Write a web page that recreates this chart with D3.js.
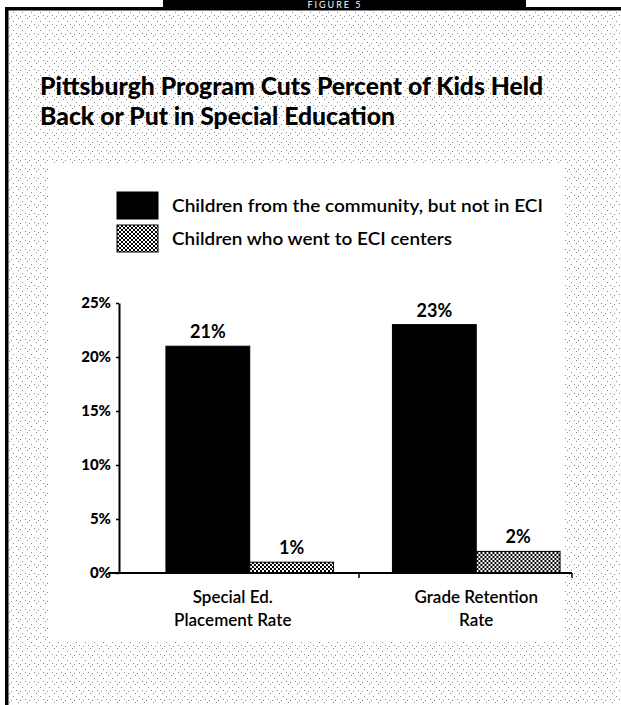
<!DOCTYPE html>
<html>
<head>
<meta charset="utf-8">
<script src="https://cdn.jsdelivr.net/npm/d3@7"></script>
<style>
  body { margin: 0; background: #fff; }
  svg { display: block; }
  text { font-family: Lato, "Open Sans", sans-serif; fill: #000; }
</style>
</head>
<body>
<script>
// data
var categories = ['Special Ed. Placement Rate', 'Grade Retention Rate'];
var categoryLines = [['Special Ed.', 'Placement Rate'], ['Grade Retention', 'Rate']];
var seriesNames = ['Children from the community, but not in ECI', 'Children who went to ECI centers'];
var notInECI = [21, 23];
var wentToECI = [1, 2];
var yTicks = [0, 5, 10, 15, 20, 25];

var W = 621, H = 705;

var svg = d3.select('body').append('svg')
    .attr('width', W)
    .attr('height', H);

var defs = svg.append('defs');

// scan-like stipple for the page background
var stip = defs.append('pattern')
    .attr('id', 'stipple')
    .attr('patternUnits', 'userSpaceOnUse')
    .attr('width', 9).attr('height', 9);
stip.append('rect').attr('width', 9).attr('height', 9).attr('fill', '#fff');
[[0, 0], [4, 3], [7, 6], [2, 7]].forEach(function(p) {
    stip.append('rect').attr('x', p[0]).attr('y', p[1])
        .attr('width', 1).attr('height', 1).attr('fill', '#8a8a8a');
});

// checker for the ECI bars
var chk = defs.append('pattern')
    .attr('id', 'checker')
    .attr('patternUnits', 'userSpaceOnUse')
    .attr('width', 4).attr('height', 4);
chk.append('rect').attr('width', 4).attr('height', 4).attr('fill', '#fff');
chk.append('rect').attr('x', 0).attr('y', 0).attr('width', 2).attr('height', 2).attr('fill', '#000');
chk.append('rect').attr('x', 2).attr('y', 2).attr('width', 2).attr('height', 2).attr('fill', '#000');

// background + white chart panel
svg.append('rect').attr('x', 8).attr('y', 10).attr('width', W - 8).attr('height', H - 10)
    .attr('fill', 'url(#stipple)');
svg.append('rect').attr('x', 48).attr('y', 165).attr('width', 517).attr('height', 477)
    .attr('fill', '#fff');

// frame and header tab
svg.append('rect').attr('x', 5).attr('y', 7).attr('width', W - 5).attr('height', 3.5).attr('fill', '#000');
svg.append('rect').attr('x', 5).attr('y', 7).attr('width', 3.5).attr('height', H - 7).attr('fill', '#000');
svg.append('rect').attr('x', 163).attr('y', 0).attr('width', 363).attr('height', 10).attr('fill', '#000');
svg.append('text')
    .attr('x', 335).attr('y', 8)
    .attr('text-anchor', 'middle')
    .style('font-size', '9px')
    .style('letter-spacing', '2px')
    .style('fill', '#fff')
    .text('FIGURE 5');

// title
var title = ['Pittsburgh Program Cuts Percent of Kids Held', 'Back or Put in Special Education'];
var titleLen = [503, 355];
svg.selectAll('.title')
    .data(title)
    .enter().append('text')
    .attr('class', 'title')
    .attr('x', 40)
    .attr('y', function(d, i) { return 95 + i * 30; })
    .attr('textLength', function(d, i) { return titleLen[i]; })
    .attr('lengthAdjust', 'spacingAndGlyphs')
    .style('font-size', '24px')
    .style('font-weight', 900)
    .text(function(d) { return d; });

// legend
var legendFill = ['#000', 'url(#checker)'];
var legendLen = [371, 280];
var legend = svg.selectAll('.legend')
    .data(seriesNames)
    .enter().append('g')
    .attr('class', 'legend')
    .attr('transform', function(d, i) { return 'translate(117,' + (192 + i * 33) + ')'; });
legend.append('rect')
    .attr('width', 41).attr('height', 27)
    .attr('fill', function(d, i) { return legendFill[i]; })
    .attr('stroke', '#000').attr('stroke-width', 1);
legend.append('text')
    .attr('x', 55).attr('y', 20)
    .attr('textLength', function(d, i) { return legendLen[i]; })
    .attr('lengthAdjust', 'spacingAndGlyphs')
    .style('font-size', '17px')
    .style('font-weight', 600)
    .text(function(d) { return d; });

// scales
var y = d3.scaleLinear().domain([0, 25]).range([573, 303]);
var x0 = d3.scaleBand().domain(categories).range([136.5, 589.5])
    .paddingInner(0.26).paddingOuter(0.13);
var x1 = d3.scaleBand().domain([0, 1]).range([0, x0.bandwidth()]);

var axisX = 119, axisEnd = 572;

// bars
var groups = svg.selectAll('.grp')
    .data(categories)
    .enter().append('g')
    .attr('class', 'grp')
    .attr('transform', function(d) { return 'translate(' + x0(d) + ',0)'; });

groups.each(function(cat, ci) {
    var g = d3.select(this);
    var vals = [notInECI[ci], wentToECI[ci]];
    g.selectAll('rect')
        .data(vals)
        .enter().append('rect')
        .attr('x', function(d, i) { return x1(i); })
        .attr('y', function(d) { return y(d); })
        .attr('width', x1.bandwidth())
        .attr('height', function(d) { return y(0) - y(d); })
        .attr('fill', function(d, i) { return legendFill[i]; })
        .attr('stroke', '#000')
        .attr('stroke-width', 1);
    g.selectAll('.val')
        .data(vals)
        .enter().append('text')
        .attr('class', 'val')
        .attr('x', function(d, i) { return x1(i) + x1.bandwidth() / 2; })
        .attr('y', function(d) { return y(d) - 8; })
        .attr('text-anchor', 'middle')
        .style('font-size', '18px')
        .style('font-weight', 700)
        .text(function(d) { return d + '%'; });
});

// y axis
var yAxis = svg.append('g')
    .attr('transform', 'translate(' + axisX + ',0)')
    .call(d3.axisLeft(y).tickValues(yTicks).tickSize(3).tickSizeOuter(0)
        .tickFormat(function(d) { return d + '%'; }));
yAxis.select('.domain').attr('stroke-width', 2);
yAxis.selectAll('.tick line').attr('stroke-width', 1.5);
yAxis.selectAll('.tick text')
    .attr('x', -8)
    .style('font-family', 'Lato, sans-serif')
    .style('font-size', '15px')
    .style('font-weight', 900)
    .style('fill', '#000');

// x axis line with category dividers
svg.append('line')
    .attr('x1', 108).attr('x2', axisEnd)
    .attr('y1', y(0)).attr('y2', y(0))
    .attr('stroke', '#000').attr('stroke-width', 2);
var divider = (x0(categories[0]) + x0.bandwidth() + x0(categories[1])) / 2 - 4;
[divider, axisEnd].forEach(function(tx) {
    svg.append('line')
        .attr('x1', tx).attr('x2', tx)
        .attr('y1', y(0)).attr('y2', y(0) + 5)
        .attr('stroke', '#000').attr('stroke-width', 1.5);
});

// category labels
var labelShift = [-17, 0];
categories.forEach(function(cat, ci) {
    var cx = x0(cat) + x0.bandwidth() / 2 + labelShift[ci];
    svg.append('text')
        .attr('text-anchor', 'middle')
        .style('font-size', '17px')
        .style('font-weight', 600)
        .selectAll('tspan')
        .data(categoryLines[ci])
        .enter().append('tspan')
        .attr('x', cx)
        .attr('y', function(d, i) { return 603 + i * 23; })
        .text(function(d) { return d; });
});
</script>
</body>
</html>
